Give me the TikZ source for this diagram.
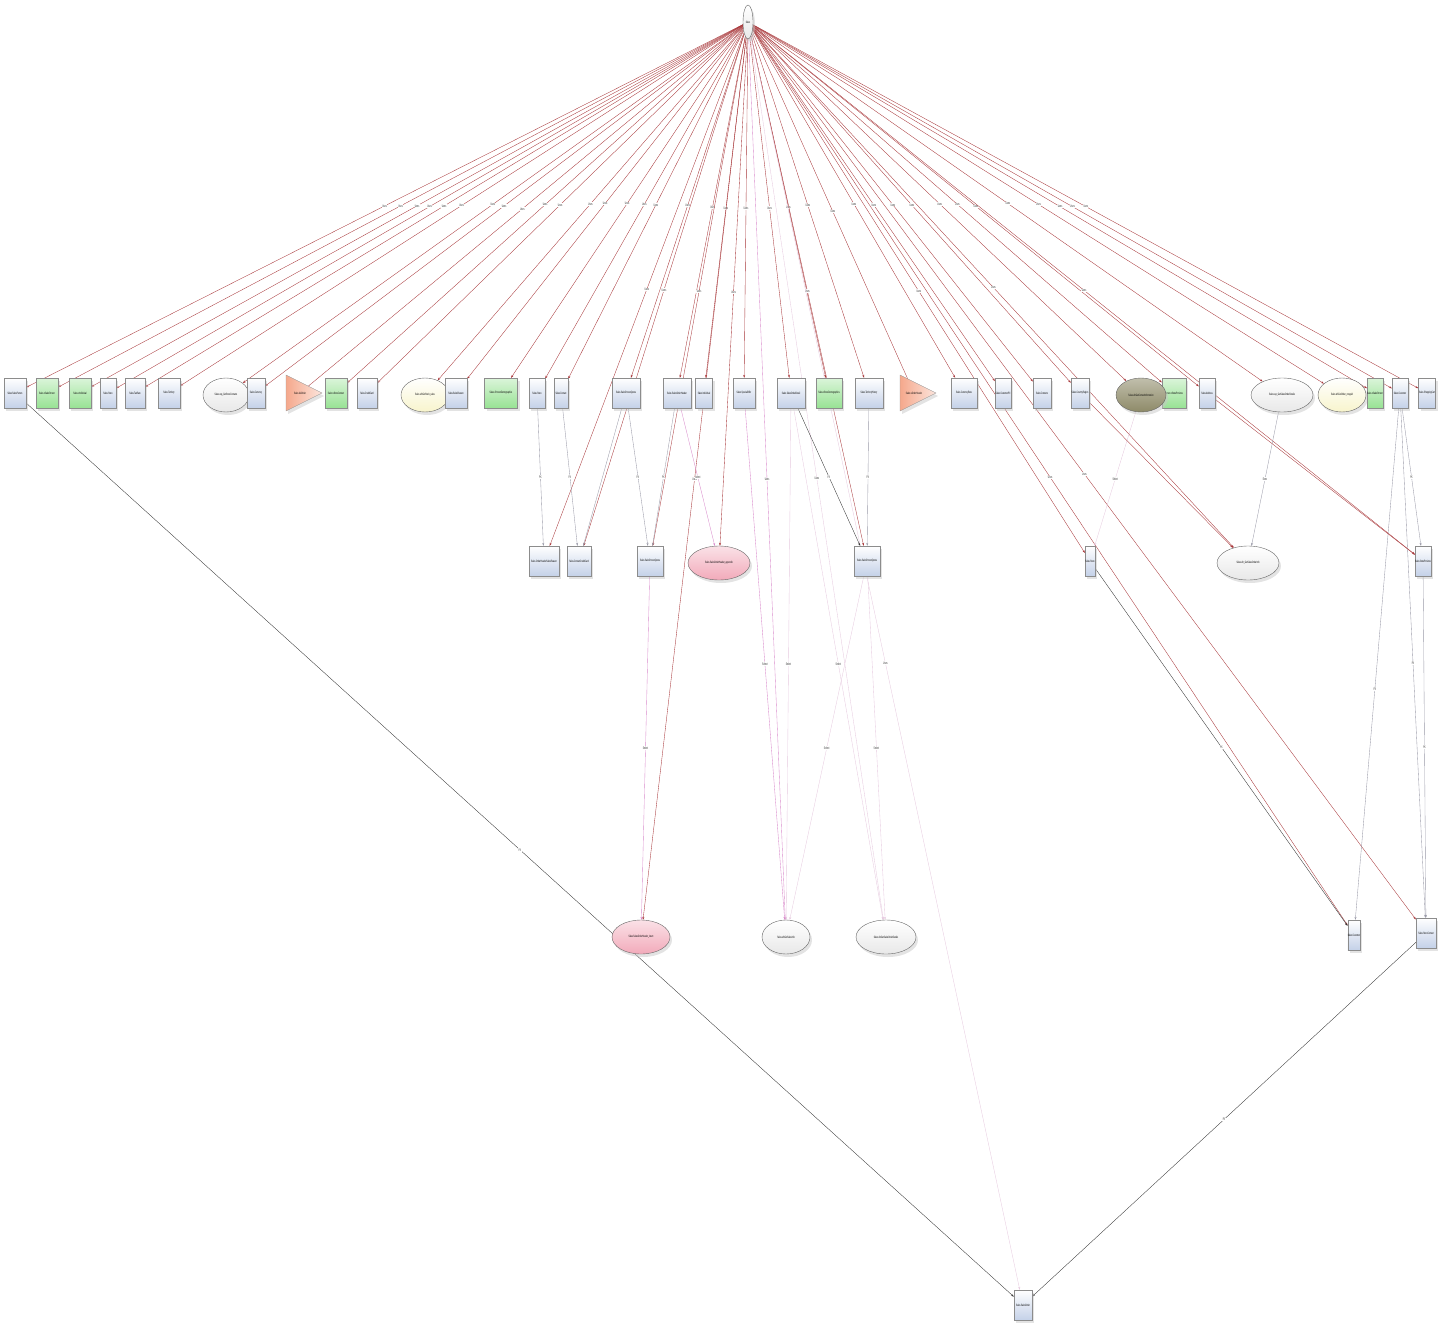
\documentclass[tikz,border=0pt]{standalone}
\usepackage{fontspec}
\setmainfont{Liberation Sans}
\newfontfamily\cnd[FakeStretch=0.55]{Liberation Sans}
\usetikzlibrary{arrows.meta,shadows,shapes.geometric}
\definecolor{bxb}{HTML}{C4D1E8}
\definecolor{bxg}{HTML}{98E294}
\definecolor{trc}{HTML}{F5A88C}
\definecolor{yel}{HTML}{F8F4CC}
\definecolor{pnk}{HTML}{F2AABA}
\definecolor{olv}{HTML}{8E8A68}
\definecolor{ered}{HTML}{A8373A}
\definecolor{epink}{HTML}{D98ACB}
\definecolor{elpink}{HTML}{E6CADF}
\definecolor{egray}{HTML}{9A9AA8}
\pgfdeclarelayer{bg}\pgfsetlayers{bg,main}
\tikzset{
 base/.style={inner sep=0pt, font=\cnd\fontsize{3.2}{3.6}\selectfont, align=center,
   drop shadow={shadow xshift=2pt,shadow yshift=-3pt,fill=black!22}},
 bbox/.style={base, rectangle, draw=black!45, line width=0.3pt, minimum height=30pt,
   top color=white, bottom color=bxb},
 gbox/.style={bbox, top color=bxg!35, bottom color=bxg},
 ell/.style={base, ellipse, draw=black!60, line width=0.4pt, minimum height=34pt,
   top color=white, bottom color=gray!18},
 yell/.style={ell, top color=white, bottom color=yel},
 pell/.style={ell, top color=pnk!35, bottom color=pnk},
 oell/.style={ell, top color=olv!55, bottom color=olv},
 tritext/.style={inner sep=0pt, font=\cnd\fontsize{3.2}{3.6}\selectfont},
 trishape/.style={draw=black!40, line width=0.3pt, left color=trc, right color=trc!30,
   drop shadow={shadow xshift=2pt,shadow yshift=-3pt,fill=black!22}},
 e/.style={-{Stealth[length=3pt,width=2pt]}, line width=0.35pt},
 er/.style={e, draw=ered},
 ek/.style={e, draw=black!80},
 ep/.style={e, draw=epink},
 el/.style={e, draw=elpink},
 eg/.style={e, draw=egray},
 lbl/.style={font=\cnd\fontsize{3.6}{4}\selectfont, fill=white, inner sep=0.4pt, text=black!80},
}
\begin{document}
\begin{tikzpicture}[x=1pt,y=-1pt]
\useasboundingbox (0,0) rectangle (1447,1324);
% top
\node[ell, minimum width=10pt, minimum height=34pt] (t) at (748,22) {Sales};
% top row
\node[bbox, minimum width=22pt] (n1) at (15,393) {Sales.SalesPerson};
\node[gbox, minimum width=22pt] (n2) at (47,393) {Sales.vSalesPerson};
\node[gbox, minimum width=22pt] (n3) at (80,393) {Sales.vIndividual};
\node[bbox, minimum width=16pt] (n4) at (108,393) {Sales.Store};
\node[bbox, minimum width=20pt] (n5) at (135,393) {Sales.TaxRate};
\node[bbox, minimum width=22pt] (n6) at (169,393) {Sales.Territory};
\node[ell, minimum width=46pt] (n7) at (226,395) {Sales.usp\_GetStoreContacts};
\node[bbox, minimum width=18pt] (n8) at (256,393) {Sales.Currency};
\path[trishape] (286,375) -- (322,393) -- (286,411) -- cycle;
\node[tritext] (n9) at (300,393) {Sales.iduOrder};
\node[gbox, minimum width=22pt] (n10) at (336,393) {Sales.vStoreContact};
\node[bbox, minimum width=20pt] (n11) at (367,393) {Sales.CreditCard};
\node[yell, minimum width=48pt] (n12) at (425,395) {Sales.ufnGetStock\_sales};
\node[bbox, minimum width=22pt] (n13) at (456,393) {Sales.SalesReason};
\node[gbox, minimum width=33pt] (n14) at (501,393) {Sales.vPersonDemographics};
\node[bbox, minimum width=16pt] (n15) at (537,393) {Sales.Store};
\node[bbox, minimum width=14pt] (n16) at (561,393) {Sales.Contact};
\node[bbox, minimum width=28pt] (n17) at (626,393) {Sales.SalesPersonQuota};
\node[bbox, minimum width=28pt] (n18) at (677,393) {Sales.SalesOrderHeader};
\node[bbox, minimum width=17pt] (n19) at (704,393) {Sales.Individual};
\node[bbox, minimum width=22pt] (n20) at (744,393) {Sales.SpecialOffer};
\node[bbox, minimum width=28pt] (n21) at (791,393) {Sales.SalesOrderDetail};
\node[gbox, minimum width=26pt] (n22) at (829,393) {Sales.vStoreDemographics};
\node[bbox, minimum width=28pt] (n23) at (869,393) {Sales.TerritoryHistory};
\path[trishape] (900,375) -- (936,393) -- (900,411) -- cycle;
\node[tritext] (n24) at (914,393) {Sales.uOrderHeader};
\node[bbox, minimum width=26pt] (n25) at (964,393) {Sales.CurrencyRate};
\node[bbox, minimum width=16pt] (n26) at (1003,393) {Sales.CustomerPII};
\node[bbox, minimum width=18pt] (n27) at (1042,393) {Sales.Contacts};
\node[bbox, minimum width=18pt] (n28) at (1080,393) {Sales.CountryRegion};
\node[gbox, minimum width=24pt] (n30) at (1174,393) {Person.vStateProvince};
\node[oell, minimum width=50pt] (n29) at (1141,395) {Sales.ufnGetContactInformation};
\node[bbox, minimum width=16pt] (n31) at (1207,393) {Sales.Address};
\node[ell, minimum width=62pt] (n32) at (1282,395) {Sales.usp\_GetSalesOrderDetails};
\node[yell, minimum width=48pt] (n33) at (1342,395) {Sales.ufnGetOrder\_rowguid};
\node[gbox, minimum width=15pt] (n34) at (1375,393) {Sales.vSalesPerson};
\node[bbox, minimum width=16pt] (n35) at (1400,393) {Sales.Customer};
\node[bbox, minimum width=17pt] (n36) at (1427,393) {Sales.ShoppingCart};
% middle row
\node[bbox, minimum width=30pt] (m1) at (544,561) {Sales.OrderHeaderSalesReason};
\node[bbox, minimum width=24pt] (m2) at (579,561) {Sales.ContactCreditCard};
\node[bbox, minimum width=26pt] (m3) at (650,561) {Sales.SalesPersonQuota};
\node[pell, minimum width=62pt] (m4) at (719,563) {Sales.SalesOrderHeader\_appendix};
\node[bbox, minimum width=26pt] (m5) at (867,561) {Sales.SalesPersonQuota};
\node[bbox, minimum width=10pt] (m6) at (1090,561) {Sales.Store};
\node[ell, minimum width=62pt] (m7) at (1248,563) {Sales.ufn\_GetSalesOrderInfo};
\node[bbox, minimum width=15pt] (m8) at (1423,561) {Sales.StateProvince};
% lower row
\node[pell, minimum width=58pt] (l1) at (641,937) {Sales.SalesOrderHeader\_insert};
\node[ell, minimum width=48pt] (l2) at (786,937) {Sales.ufnGetSalesInfo};
\node[ell, minimum width=60pt] (l3) at (886,937) {Sales.ufnGetSalesOrderDetails};
\node[bbox, minimum width=12pt] (l4) at (1354,935) {Sales.Customer};
\node[bbox, minimum width=20pt] (l5) at (1426,933) {Sales.StoreContact};
% bottom
\node[bbox, minimum width=18pt] (b) at (1023,1305) {Sales.SalesOrder};

\begin{pgfonlayer}{bg}
\foreach \i in {1,...,36} \draw[er] (t) -- (n\i) node[lbl,midway]{Uses};
\foreach \i in {1,...,8} \draw[er] (t) -- (m\i) node[lbl,midway]{Uses};
\foreach \i in {1,4,5} \draw[er] (t) -- (l\i) node[lbl,midway]{Uses};
\draw[ep] (t) -- (l2) node[lbl,midway]{Uses};
\draw[el] (t) -- (l3) node[lbl,midway]{Uses};
\draw[el] (t) -- (b) node[lbl,midway]{Uses};
\draw[ek] (n1) -- (b) node[lbl,midway]{FK};
\draw[ek] (l5) -- (b) node[lbl,midway]{FK};
\draw[ek] (n21) -- (m5) node[lbl,midway]{FK};
\draw[ek] (m6) -- (l4) node[lbl,midway]{FK};
\draw[ep] (n20) -- (l2) node[lbl,midway]{Select};
\draw[el] (n21) -- (l2) node[lbl,midway]{Select};
\draw[el] (n21) -- (l3) node[lbl,midway]{Select};
\draw[ep] (m3) -- (l1) node[lbl,midway]{Select};
\draw[el] (m5) -- (l2) node[lbl,midway]{Select};
\draw[el] (m5) -- (l3) node[lbl,midway]{Select};
\draw[ep] (n18) -- (m4) node[lbl,midway]{Select};
\draw[eg] (n15) -- (m1) node[lbl,midway]{FK};
\draw[eg] (n16) -- (m2) node[lbl,midway]{FK};
\draw[eg] (n17) -- (m3) node[lbl,midway]{FK};
\draw[eg] (n18) -- (m3) node[lbl,midway]{FK};
\draw[eg] (n17) -- (m2);
\draw[eg] (n23) -- (m5) node[lbl,midway]{FK};
\draw[el] (n29) -- (m6) node[lbl,midway]{Select};
\draw[eg] (n32) -- (m7) node[lbl,midway]{Exec};
\draw[eg] (n35) -- (m8) node[lbl,midway]{FK};
\draw[eg] (n35) -- (l4) node[lbl,pos=0.55]{FK};
\draw[eg] (n35) -- (l5) node[lbl,midway]{FK};
\draw[eg] (m8) -- (l5) node[lbl,midway]{FK};
\draw[er] (n28) -- (m7);
\draw[er] (n31) -- (m8);
\end{pgfonlayer}
\end{tikzpicture}
\end{document}
